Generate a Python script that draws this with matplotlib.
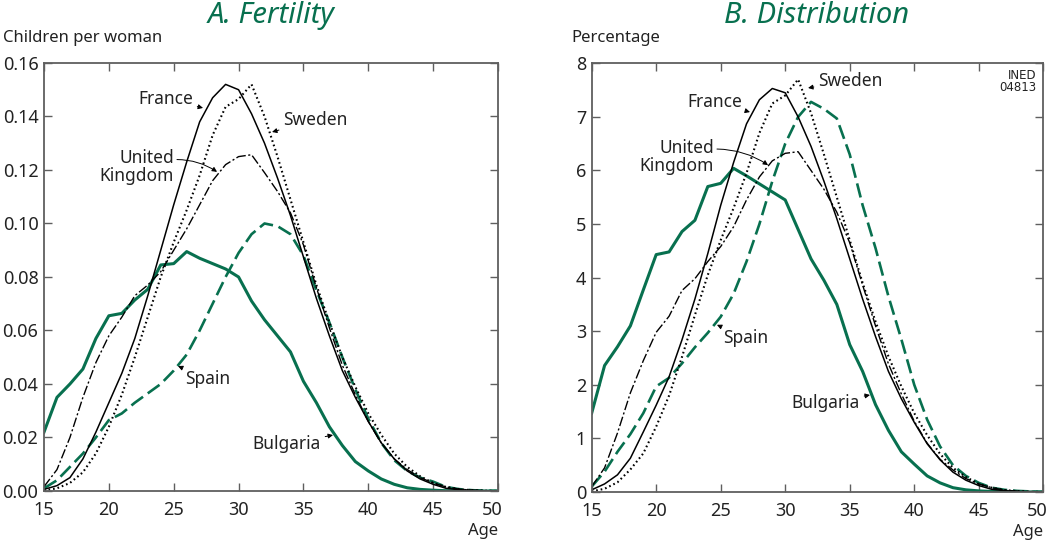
import matplotlib
matplotlib.use("Agg")
import matplotlib.pyplot as plt
import matplotlib.transforms as mtransforms

plt.rcParams['font.family'] = ['Noto Sans', 'DejaVu Sans']

ages = list(range(15, 51))

# A. age-specific fertility rates (children per woman)
france_rate = [0.0006, 0.002, 0.005, 0.012, 0.022, 0.033, 0.044, 0.057, 0.073, 0.090,
               0.107, 0.123, 0.138, 0.147, 0.152, 0.150, 0.141, 0.130, 0.117, 0.103,
               0.0875, 0.072, 0.058, 0.045, 0.035, 0.026, 0.018, 0.012, 0.0075, 0.0045,
               0.0025, 0.001, 0.0005, 0.0002, 0.0001, 0.0]
sweden_rate = [0.0002, 0.001, 0.003, 0.007, 0.014, 0.024, 0.036, 0.050, 0.065, 0.080,
               0.093, 0.105, 0.118, 0.133, 0.1436, 0.1465, 0.152, 0.140, 0.125, 0.109,
               0.093, 0.077, 0.063, 0.050, 0.039, 0.029, 0.021, 0.014, 0.009, 0.0055,
               0.003, 0.0015, 0.0007, 0.0003, 0.0001, 0.0]
uk_rate = [0.0016, 0.008, 0.020, 0.035, 0.048, 0.058, 0.065, 0.073, 0.077, 0.082,
           0.090, 0.098, 0.107, 0.116, 0.122, 0.125, 0.1257, 0.119, 0.112, 0.104,
           0.092, 0.076, 0.061, 0.047, 0.036, 0.026, 0.018, 0.012, 0.008, 0.005,
           0.003, 0.0015, 0.0007, 0.0003, 0.0001, 0.0]
spain_rate = [0.001, 0.004, 0.009, 0.014, 0.020, 0.0265, 0.029, 0.033, 0.0365, 0.040,
              0.045, 0.051, 0.060, 0.070, 0.080, 0.089, 0.096, 0.100, 0.099, 0.096,
              0.088, 0.075, 0.063, 0.050, 0.038, 0.027, 0.018, 0.0115, 0.0075, 0.005,
              0.0035, 0.0015, 0.0007, 0.0003, 0.0001, 0.0]
bulgaria_rate = [0.022, 0.035, 0.040, 0.0456, 0.057, 0.0655, 0.0664, 0.0714, 0.0754, 0.0845,
                 0.085, 0.0895, 0.087, 0.085, 0.083, 0.080, 0.071, 0.064, 0.058, 0.052,
                 0.041, 0.033, 0.024, 0.017, 0.011, 0.0075, 0.0045, 0.0025, 0.0012, 0.0006,
                 0.0003, 0.0001, 0.0001, 0.0, 0.0, 0.0]

# B. distribution of births by age (percentage)
france_pct = [0.04, 0.15, 0.32, 0.63, 1.12, 1.62, 2.15, 2.84, 3.6, 4.45,
              5.35, 6.15, 6.87, 7.32, 7.53, 7.45, 7.0, 6.45, 5.8, 5.1,
              4.35, 3.6, 2.9, 2.25, 1.74, 1.3, 0.9, 0.6, 0.37, 0.22,
              0.12, 0.05, 0.025, 0.01, 0.005, 0.0]
sweden_pct = [0.01, 0.06, 0.18, 0.42, 0.72, 1.22, 1.8, 2.52, 3.3, 4.05,
              4.7, 5.3, 5.95, 6.7, 7.25, 7.4, 7.7, 7.07, 6.3, 5.5,
              4.7, 3.9, 3.18, 2.53, 1.97, 1.47, 1.06, 0.71, 0.45, 0.28,
              0.15, 0.08, 0.035, 0.015, 0.005, 0.0]
uk_pct = [0.1, 0.45, 1.1, 1.85, 2.45, 2.98, 3.28, 3.76, 3.98, 4.3,
          4.58, 4.95, 5.45, 5.88, 6.18, 6.32, 6.35, 6.0, 5.65, 5.22,
          4.65, 3.86, 3.1, 2.39, 1.83, 1.32, 0.91, 0.61, 0.41, 0.25,
          0.15, 0.08, 0.035, 0.015, 0.005, 0.0]
spain_pct = [0.1, 0.38, 0.75, 1.08, 1.47, 1.97, 2.13, 2.4, 2.7, 2.97,
             3.27, 3.7, 4.3, 5.0, 5.8, 6.5, 7.0, 7.28, 7.15, 6.97,
             6.3, 5.35, 4.55, 3.65, 2.85, 2.0, 1.35, 0.85, 0.5, 0.3,
             0.17, 0.08, 0.04, 0.02, 0.01, 0.0]
bulgaria_pct = [1.47, 2.36, 2.71, 3.1, 3.77, 4.43, 4.48, 4.86, 5.07, 5.7,
                5.76, 6.04, 5.9, 5.75, 5.6, 5.45, 4.9, 4.35, 3.95, 3.5,
                2.75, 2.25, 1.63, 1.15, 0.75, 0.52, 0.3, 0.17, 0.08, 0.04,
                0.02, 0.01, 0.005, 0.0, 0.0, 0.0]

green = '#08704f'
frame = '#5f5f5f'
txt = '#222222'


def draw_panel(ax, fr, sw, uk, sp, bg):
    ax.plot(ages, sp, color=green, lw=1.9, dashes=(5.5, 2.2))
    ax.plot(ages, bg, color=green, lw=2.2)
    ax.plot(ages, uk, color='black', lw=1.0, dashes=(7, 1.8, 1.5, 1.8))
    ax.plot(ages, sw, color='black', lw=1.5, dashes=(0.8, 1.4))
    ax.plot(ages, fr, color='black', lw=1.1)
    ax.set_xlim(15, 50)
    ax.set_xticks(range(15, 51, 5))
    for s in ax.spines.values():
        s.set_color(frame)
        s.set_linewidth(1.3)
    ax.tick_params(direction='in', length=6, width=1, color=frame,
                   top=True, right=True, labelsize=13, labelcolor=txt)
    ax.tick_params(axis='x', pad=7)
    ax.tick_params(axis='y', pad=4)
    # last age label sits pulled in against the right edge
    last = ax.xaxis.get_major_ticks()[-1].label1
    last.set_horizontalalignment('right')
    last.set_transform(last.get_transform() +
                       mtransforms.ScaledTranslation(3 / 72, 0, ax.figure.dpi_scale_trans))
    ax.text(1.0, -0.075, 'Age', transform=ax.transAxes, ha='right', va='top',
            fontsize=12, color=txt)


def label(ax, s, tip, pos, ha):
    ax.annotate(s, xy=tip, xytext=pos, ha=ha, va='center', fontsize=12.5, color=txt,
                arrowprops=dict(arrowstyle='-|>', color='black', lw=0.7,
                                mutation_scale=7, shrinkA=1, shrinkB=0))


fig = plt.figure(figsize=(10.5, 5.42), dpi=100)
ax1 = fig.add_axes([0.0419, 0.0941, 0.4324, 0.7897])
ax2 = fig.add_axes([0.5635, 0.0923, 0.4301, 0.7909])

# panel A
draw_panel(ax1, france_rate, sweden_rate, uk_rate, spain_rate, bulgaria_rate)
ax1.set_ylim(0, 0.16)
ax1.set_yticks([0, 0.02, 0.04, 0.06, 0.08, 0.10, 0.12, 0.14, 0.16])
ax1.set_yticklabels(['0.00', '0.02', '0.04', '0.06', '0.08', '0.10', '0.12', '0.14', '0.16'])
label(ax1, 'France', (27.26, 0.1432), (26.5, 0.1465), 'right')
label(ax1, 'Sweden', (32.58, 0.1342), (33.43, 0.1387), 'left')
label(ax1, 'Spain', (25.33, 0.0467), (25.87, 0.0419), 'left')
label(ax1, 'Bulgaria', (37.28, 0.0209), (36.36, 0.0176), 'right')
ax1.text(25.02, 0.1211, 'United\nKingdom', ha='right', va='center', multialignment='right',
         fontsize=12.5, color=txt, linespacing=1.05)
ax1.annotate('', xy=(28.34, 0.1193), xytext=(25.25, 0.1239),
             arrowprops=dict(arrowstyle='-|>', color='black', lw=0.7, mutation_scale=7,
                             shrinkA=0, shrinkB=0, connectionstyle='arc3,rad=-0.15'))

# panel B
draw_panel(ax2, france_pct, sweden_pct, uk_pct, spain_pct, bulgaria_pct)
ax2.set_ylim(0, 8)
ax2.set_yticks(range(0, 9))
label(ax2, 'France', (27.27, 7.09), (26.65, 7.28), 'right')
label(ax2, 'Sweden', (31.77, 7.54), (32.54, 7.67), 'left')
label(ax2, 'Spain', (24.71, 3.12), (25.18, 2.87), 'left')
label(ax2, 'Bulgaria', (36.57, 1.81), (35.8, 1.66), 'right')
ax2.text(24.48, 6.25, 'United\nKingdom', ha='right', va='center', multialignment='right',
         fontsize=12.5, color=txt, linespacing=1.05)
ax2.annotate('', xy=(28.67, 6.1), xytext=(24.71, 6.4),
             arrowprops=dict(arrowstyle='-|>', color='black', lw=0.7, mutation_scale=7,
                             shrinkA=0, shrinkB=0, connectionstyle='arc3,rad=-0.15'))
ax2.text(0.984, 0.958, 'INED\n04813', transform=ax2.transAxes, ha='right', va='center',
         fontsize=8.5, color=txt, linespacing=0.95,
         family=['Liberation Sans Narrow', 'DejaVu Sans'])

# titles and axis captions
fig.text(0.258, 0.972, 'A. Fertility', ha='center', va='center', fontsize=21,
         fontstyle='italic', fontweight='medium', color=green)
fig.text(0.778, 0.972, 'B. Distribution', ha='center', va='center', fontsize=21,
         fontstyle='italic', fontweight='medium', color=green)
fig.text(0.003, 0.930, 'Children per woman', ha='left', va='center', fontsize=12, color=txt)
fig.text(0.544, 0.930, 'Percentage', ha='left', va='center', fontsize=12, color=txt)

fig.savefig('out.png', dpi=100)
plt.close(fig)
